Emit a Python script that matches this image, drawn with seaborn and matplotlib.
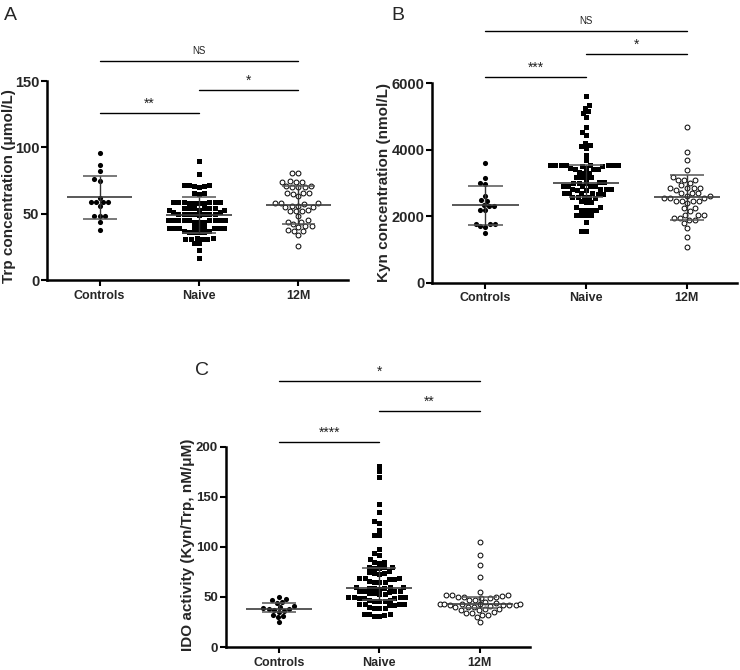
import matplotlib
matplotlib.use("Agg")
import matplotlib.pyplot as plt
import numpy as np
import pandas as pd
import seaborn as sns

# groups on the x axis
groups = ["Controls", "Naive", "12M"]

# Panel A - Trp (umol/L)
trp_controls = [96, 87, 82, 76, 75, 62, 59, 59, 59, 59, 56, 48, 48, 48, 44, 38]
trp_naive = [90, 80,
             72, 72, 71, 71, 70, 72,
             66, 65, 66,
             59, 59, 58, 59, 58, 59, 59, 58, 59, 58,
             54, 54, 53, 54, 54, 53, 54, 54, 53,
             50, 50, 51, 50, 50, 50, 51, 50, 50, 49,
             45, 45, 44, 45, 45, 45, 45, 44, 45, 45, 45, 44,
             40, 39, 39, 40, 39, 39, 40, 39, 39,
             36, 36, 37, 36, 36, 37,
             32, 31, 31, 32, 31, 31,
             28, 28, 23, 17]
trp_12m = [81, 81, 74, 74, 75, 74, 71, 70, 70, 71, 70, 66, 66, 65, 66, 63,
           58, 58, 57, 58, 56, 55, 55, 56, 52, 53, 52, 52, 48, 45, 44, 44,
           42, 41, 41, 40, 37, 37, 38, 34, 26]

# Panel B - Kyn (nmol/L)
kyn_controls = [3600, 3150, 3000, 2980, 2620, 2490, 2460, 2330, 2310, 2300,
                2200, 2180, 1780, 1770, 1760, 1700, 1680, 1480]
kyn_naive = [5610, 5340, 5250, 5150, 5100, 4970, 4670, 4540, 4440, 4200, 4150,
             4100, 4050, 3850, 3690,
             3540, 3530, 3540, 3530, 3520, 3540, 3530, 3540, 3520, 3530,
             3430, 3440, 3420, 3440, 3430,
             3310, 3300, 3320,
             3170, 3160, 3170, 3180,
             3010, 3020, 3000, 3010, 3020,
             2910, 2900, 2920, 2910, 2900,
             2810, 2800, 2820, 2810, 2810, 2800,
             2690, 2680, 2700, 2690, 2690, 2680,
             2570, 2560, 2580, 2570, 2570,
             2440, 2430, 2450,
             2290, 2280,
             2190, 2180, 2200, 2190,
             2040, 2030, 2050, 2040,
             1840, 1540, 1540]
kyn_12m = [4690, 3920, 3690, 3390, 3170, 3090, 3090, 3090, 2940, 3010,
           2860, 2860, 2860, 2860, 2790, 2690, 2690, 2690, 2620, 2620,
           2540, 2540, 2540, 2470, 2470, 2470, 2470, 2390, 2240, 2240, 2170,
           2040, 2040, 2040, 1940, 1940, 1890, 1890, 1790, 1640, 1360, 1060]

# Panel C - IDO activity (Kyn/Trp)
ido_controls = [50, 48, 47, 45, 44, 41, 40, 39, 38, 38, 37, 36, 35, 32, 31, 30, 25]
ido_naive = [181, 176, 170, 143, 135, 126, 124, 117, 112, 112, 98, 94, 92, 88,
             85, 85, 84,
             80, 80, 79, 80, 79,
             75, 76,
             74, 73, 74,
             69, 69, 68, 69, 68,
             65, 66, 65, 65,
             60, 59, 60, 59, 58, 60, 59,
             56, 56, 55, 56, 56,
             53, 54, 53, 54,
             50, 49, 50, 50, 49, 50, 49,
             46, 47, 46, 46, 47,
             43, 43, 42, 43, 43, 42,
             39, 40, 39, 39,
             33, 33, 32, 33, 31, 31]
ido_12m = [105, 92, 82, 70, 55,
           52, 52, 51, 52,
           50, 49, 50, 49, 50,
           47, 47,
           45, 44,
           43, 42, 43, 42, 43, 42, 43, 42, 43,
           40, 40, 41, 40,
           38, 37, 38, 37,
           34, 34, 35,
           32, 32, 30, 25]

# which summary each group shows (as in the figure)
stats_a = ["mean", "mean", "mean"]
stats_b = ["mean", "median", "mean"]
stats_c = ["median", "median", "median"]

sns.set_style("ticks")
plt.rcParams["font.family"] = ["Liberation Sans", "DejaVu Sans"]

fig = plt.figure(figsize=(7.4, 6.7), dpi=100)
ax_a = fig.add_axes([0.0635, 0.582, 0.407, 0.297])
ax_b = fig.add_axes([0.584, 0.578, 0.412, 0.298])
ax_c = fig.add_axes([0.305, 0.0343, 0.411, 0.299])

marker_styles = [
    dict(marker="o", color="black", edgecolor="black", linewidth=0, size=3.7),
    dict(marker="s", color="black", edgecolor="black", linewidth=0, size=3.6),
    dict(marker="o", color="white", edgecolor="black", linewidth=0.7, size=3.5),
]


def dot_panel(ax, data, stats, ylim, yticks, ylabel, brackets, label_xy, ytick_fs=10.5):
    for name, vals, st in zip(groups, data, marker_styles):
        sns.swarmplot(x=[name] * len(vals), y=vals, order=groups, ax=ax,
                      warn_thresh=1, zorder=2, **st)
    # central line + error bar
    for i, (vals, kind) in enumerate(zip(data, stats)):
        v = np.array(vals, dtype=float)
        if kind == "mean":
            mid = v.mean()
            lo, hi = mid - v.std(ddof=1), mid + v.std(ddof=1)
        else:
            mid = np.median(v)
            lo, hi = np.percentile(v, [25, 75])
        ax.hlines(mid, i - 0.33, i + 0.33, color="#3c3c3c", lw=1.2, zorder=3)
        ax.hlines([lo, hi], i - 0.17, i + 0.17, color="#555555", lw=1.1, zorder=3)
        ax.vlines(i, lo, hi, color="#333333", lw=1.0, zorder=3)

    # significance brackets
    for x0, x1, y, txt in brackets:
        ax.plot([x0, x1], [y, y], color="black", lw=1.0, clip_on=False)
        if txt == "NS":
            fs, off = 7, 4
        else:
            fs, off = 10, 1.5
        ax.annotate(txt, xy=((x0 + x1) / 2, y), xytext=(0, off),
                    textcoords="offset points", ha="center", va="bottom",
                    fontsize=fs, color="#222222", annotation_clip=False)

    ax.set_xlim(-0.53, 2.5)
    ax.set_ylim(*ylim)
    ax.set_yticks(yticks)
    ax.set_xticks([0, 1, 2])
    ax.set_xticklabels(groups, fontsize=9, fontweight="bold")
    for t in ax.get_yticklabels():
        t.set_fontsize(ytick_fs)
        t.set_fontweight("bold")
    ax.set_xlabel("")
    ax.set_ylabel(ylabel, fontsize=11, fontweight="bold")
    ax.yaxis.set_label_coords(*label_xy)
    sns.despine(ax=ax)
    for s in ["left", "bottom"]:
        ax.spines[s].set_linewidth(1.8)
        ax.spines[s].set_color("black")
    ax.tick_params(axis="both", length=4, width=1.5, color="black", pad=1.5)
    ax.tick_params(axis="x", pad=3)


dot_panel(ax_a, [trp_controls, trp_naive, trp_12m], stats_a, (0, 150),
          [0, 50, 100, 150], "Trp concentration (\u03bcmol/L)",
          [(0, 2, 165, "NS"), (1, 2, 143, "*"), (0, 1, 126, "**")],
          (-0.103, 0.47))
dot_panel(ax_b, [kyn_controls, kyn_naive, kyn_12m], stats_b, (0, 6000),
          [0, 2000, 4000, 6000], "Kyn concentration (nmol/L)",
          [(0, 2, 7560, "NS"), (1, 2, 6870, "*"), (0, 1, 6180, "***")],
          (-0.135, 0.5))
dot_panel(ax_c, [ido_controls, ido_naive, ido_12m], stats_c, (0, 200),
          [0, 50, 100, 150, 200], "IDO activity (Kyn/Trp, nM/\u03bcM)",
          [(0, 2, 266, "*"), (1, 2, 236, "**"), (0, 1, 205, "****")],
          (-0.1, 0.51), ytick_fs=9.5)

fig.text(0.006, 0.99, "A", fontsize=14, va="top", ha="left")
fig.text(0.529, 0.99, "B", fontsize=14, va="top", ha="left")
fig.text(0.264, 0.459, "C", fontsize=14, va="top", ha="left")

fig.savefig("out.png", dpi=100)
